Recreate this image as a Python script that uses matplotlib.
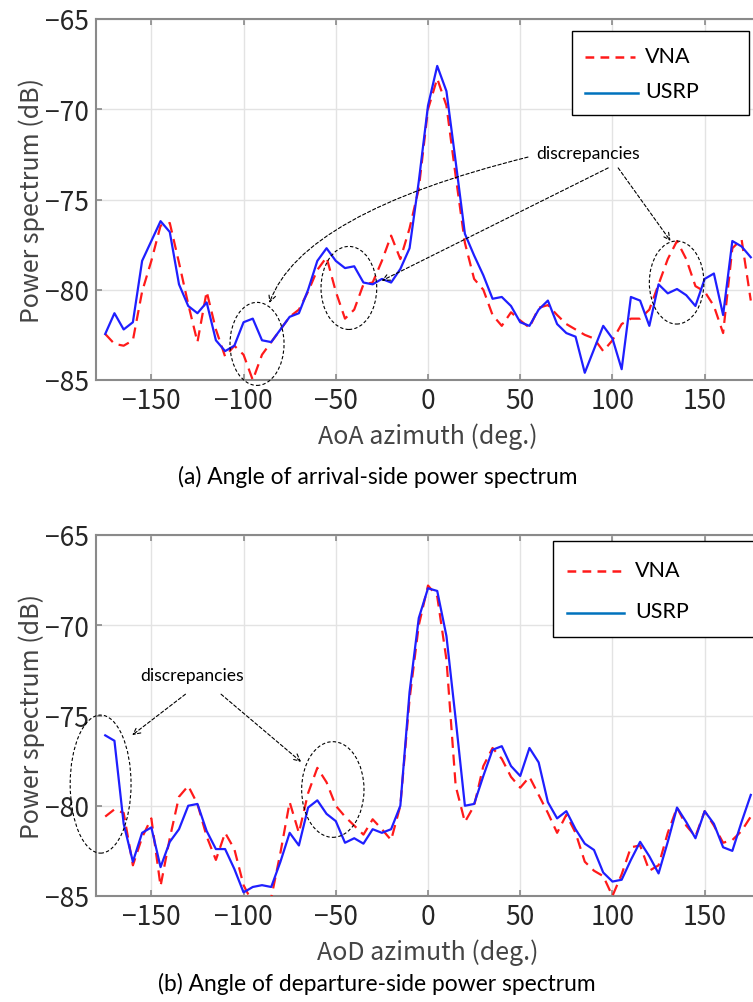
import matplotlib

matplotlib.use("Agg")
import matplotlib.pyplot as plt
from matplotlib.lines import Line2D
from matplotlib.patches import Ellipse, Rectangle

# azimuth grid (deg.), 5 deg. step
angles = list(range(-175, 180, 5))

# (a) AoA side
aoa_vna = [
    -82.45, -83.0, -83.1, -82.8, -80.1, -78.4, -76.45, -76.3, -78.5, -80.8,
    -82.9, -80.1, -82.2, -83.7, -83.1, -83.6, -85.0, -83.6, -82.9, -82.2,
    -81.5, -81.1, -80.1, -78.9, -78.2, -80.1, -81.6, -81.1, -79.7, -79.6,
    -78.4, -77.0, -78.3, -76.6, -74.4, -70.0, -68.3, -69.8, -73.7, -77.4,
    -79.4, -80.0, -81.4, -82.0, -81.25, -81.7, -82.1, -81.0, -80.85, -81.4,
    -81.9, -82.2, -82.5, -82.7, -83.4, -82.8, -81.9, -81.6, -81.6, -81.1,
    -79.7, -78.3, -77.3, -78.3, -79.8, -80.1, -80.9, -82.4, -77.7, -77.2,
    -80.6,
]
aoa_usrp = [
    -82.45, -81.3, -82.2, -81.8, -78.4, -77.3, -76.2, -76.8, -79.7, -80.9,
    -81.3, -80.7, -82.8, -83.4, -83.1, -81.8, -81.6, -82.8, -82.9, -82.2,
    -81.5, -81.3, -80.0, -78.4, -77.7, -78.4, -78.8, -78.7, -79.6, -79.7,
    -79.4, -79.6, -78.85, -77.7, -74.0, -69.8, -67.6, -69.0, -72.9, -76.9,
    -78.1, -79.2, -80.5, -80.4, -80.9, -81.8, -82.0, -81.1, -80.6, -81.9,
    -82.4, -82.6, -84.6, -83.3, -82.0, -82.7, -84.4, -80.4, -80.6, -82.0,
    -79.7, -80.2, -79.96, -80.3, -80.9, -79.4, -79.1, -81.4, -77.3, -77.6,
    -78.2,
]

# (b) AoD side
aod_vna = [
    -80.6, -80.2, -80.4, -83.3, -81.75, -80.7, -84.45, -81.8, -79.5, -78.9,
    -79.9, -81.7, -83.0, -81.5, -82.4, -84.4, -85.4, -85.6, -85.1, -82.6,
    -79.8, -81.5, -79.3, -77.9, -78.7, -80.0, -80.6, -81.1, -81.6, -80.75,
    -81.3, -81.9, -80.0, -74.1, -70.0, -67.8, -68.4, -71.9, -78.9, -80.9,
    -80.0, -77.8, -76.8, -77.4, -78.4, -79.0, -78.4, -79.4, -80.4, -81.5,
    -80.5, -81.5, -83.1, -83.6, -83.9, -85.0, -83.8, -82.3, -82.2, -83.6,
    -83.3, -81.5, -80.1, -81.1, -81.7, -80.3, -81.1, -82.05, -81.9, -81.4,
    -80.6,
]
aod_usrp = [
    -76.1, -76.4, -81.0, -83.1, -81.5, -81.2, -83.4, -82.0, -81.3, -80.0,
    -79.9, -81.4, -82.4, -82.4, -83.5, -84.8, -84.5, -84.4, -84.5, -83.1,
    -81.5, -82.2, -80.1, -79.7, -80.45, -80.85, -82.05, -81.8, -82.1, -81.3,
    -81.5, -81.3, -80.0, -73.7, -69.6, -67.95, -68.1, -70.6, -75.2, -80.0,
    -79.9, -78.35, -76.9, -76.7, -77.8, -78.35, -76.8, -77.6, -79.8, -80.7,
    -80.3, -81.3, -82.1, -82.45, -83.7, -84.2, -84.1, -83.0, -82.0, -82.8,
    -83.75, -82.0, -80.1, -80.9, -81.8, -80.3, -81.0, -82.3, -82.5, -80.9,
    -79.4,
]

x_ticks = [-150, -100, -50, 0, 50, 100, 150]
y_ticks = [-85, -80, -75, -70, -65]

W, H = 753, 1003
TICK_FONT = ["Noto Sans CJK JP", "DejaVu Sans"]
TEXT_FONT = ["Lato", "DejaVu Sans"]
GREY = "#262626"
RED = "#ff1a1a"
BLUE = "#1f1fff"


def fx(px):
    return px / W


def fy(py):
    return 1 - py / H


def setup_axes(ax, xlabel):
    ax.set_xlim(-180, 180)
    ax.set_ylim(-85, -65)
    ax.set_xticks(x_ticks)
    ax.set_yticks(y_ticks)
    ax.grid(True, color="#e3e3e3", linewidth=1.0)
    ax.set_axisbelow(True)
    for s in ax.spines.values():
        s.set_color("#8a8a8a")
        s.set_linewidth(1.5)
    ax.tick_params(direction="in", length=4, width=1.2, color="#8a8a8a",
                   top=True, right=True, labelsize=19, labelcolor=GREY, pad=5)
    for lab in ax.get_xticklabels() + ax.get_yticklabels():
        lab.set_family(TICK_FONT)
    ax.set_xlabel(xlabel, family=TICK_FONT, fontsize=18, color="#444444", labelpad=6)
    ax.set_ylabel("Power spectrum (dB)", family=TICK_FONT, fontsize=18,
                  color="#444444", labelpad=0)


def draw_curves(ax, vna, usrp):
    ax.plot(angles, vna, color=RED, linewidth=1.6, dashes=(5, 3), zorder=3)
    ax.plot(angles, usrp, color=BLUE, linewidth=1.6, zorder=4)


def ellipse(ax, cx, cy, w, h):
    ax.add_patch(Ellipse((cx, cy), w, h, fill=False, edgecolor="black",
                         linewidth=0.8, linestyle=(0, (3, 2)), clip_on=False, zorder=5))


def arrow(ax, start, end, conn="arc3,rad=0.0"):
    ax.annotate("", xy=end, xytext=start,
                arrowprops=dict(arrowstyle="->,head_length=0.5,head_width=0.25",
                                color="black", linewidth=0.8, linestyle=(0, (3, 2)),
                                connectionstyle=conn, shrinkA=0, shrinkB=0),
                annotation_clip=False, zorder=6)


def legend_box(fig, box, red_y, blue_y, line_x, text_x):
    x0, y0, x1, y1 = box
    fig.patches.append(Rectangle((fx(x0), fy(y1)), fx(x1) - fx(x0), fy(y0) - fy(y1),
                                 transform=fig.transFigure, fill=True, facecolor="white",
                                 edgecolor="black", linewidth=1.0, zorder=10))
    fig.lines.append(Line2D([fx(line_x[0]), fx(line_x[1])], [fy(red_y), fy(red_y)],
                            transform=fig.transFigure, color=RED, linewidth=1.8,
                            dashes=(3.5, 2.5), zorder=11))
    fig.lines.append(Line2D([fx(line_x[0]), fx(line_x[1] + 3)], [fy(blue_y), fy(blue_y)],
                            transform=fig.transFigure, color="#0072bd", linewidth=1.8,
                            zorder=11))
    fig.text(fx(text_x), fy(red_y - 1), "VNA", family=TEXT_FONT, fontsize=15.5,
             va="center", ha="left", zorder=12)
    fig.text(fx(text_x), fy(blue_y - 2), "USRP", family=TEXT_FONT, fontsize=15.5,
             va="center", ha="left", zorder=12)


fig = plt.figure(figsize=(W / 100, H / 100), dpi=100)

# ---- (a) AoA ----
ax1 = fig.add_axes([fx(96), fy(381), fx(760) - fx(96), fy(20) - fy(381)])
draw_curves(ax1, aoa_vna, aoa_usrp)
setup_axes(ax1, "AoA azimuth (deg.)")
ellipse(ax1, -92.7, -83.0, 29.3, 4.6)
ellipse(ax1, -42.9, -79.9, 30.2, 4.6)
ellipse(ax1, 134.8, -79.6, 29.6, 4.6)
ax1.text(87.0, -72.42, "discrepancies", family=TEXT_FONT, fontsize=12.6,
         ha="center", va="center", zorder=7)
arrow(ax1, (54.2, -72.65), (-86.0, -80.73), conn="angle3,angleA=14,angleB=70")
arrow(ax1, (97.7, -73.25), (-25.1, -79.5))
arrow(ax1, (103.1, -73.25), (131.5, -77.3))
legend_box(fig, (572, 32, 749, 116), 58, 94, (585, 635), 645)
fig.text(0.502, fy(477), "(a) Angle of arrival-side power spectrum",
         family=TEXT_FONT, fontsize=16.4, ha="center", va="center")

# ---- (b) AoD ----
ax2 = fig.add_axes([fx(96), fy(897), fx(760) - fx(96), fy(536) - fy(897)])
draw_curves(ax2, aod_vna, aod_usrp)
setup_axes(ax2, "AoD azimuth (deg.)")
ellipse(ax2, -177.5, -78.8, 33.0, 7.65)
ellipse(ax2, -51.6, -79.1, 33.8, 5.3)
ax2.text(-127.9, -72.76, "discrepancies", family=TEXT_FONT, fontsize=12.6,
         ha="center", va="center", zorder=7)
arrow(ax2, (-131.5, -73.82), (-160.4, -76.09))
arrow(ax2, (-112.2, -73.82), (-68.8, -77.57))
legend_box(fig, (553, 542, 770, 638), 572, 614, (567, 621), 635)
fig.text(0.501, fy(984), "(b) Angle of departure-side power spectrum",
         family=TEXT_FONT, fontsize=16.4, ha="center", va="center")

fig.savefig("out.png", dpi=100)
